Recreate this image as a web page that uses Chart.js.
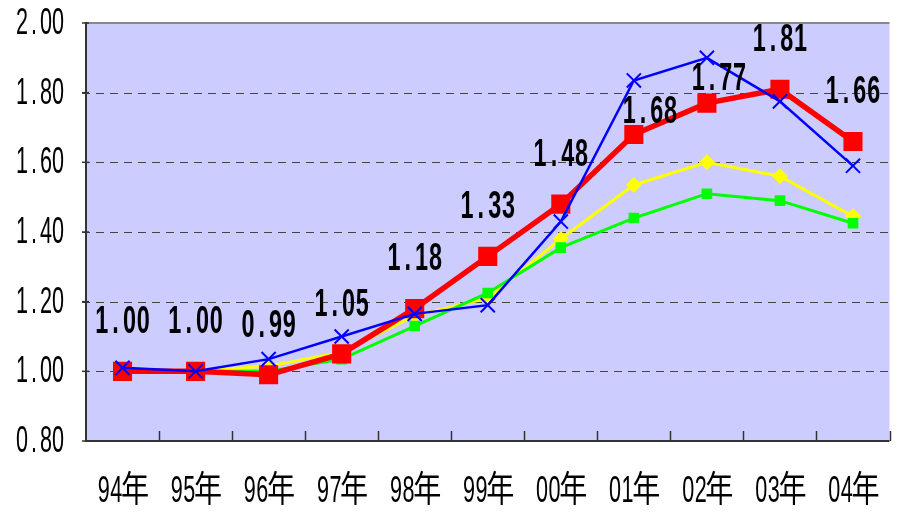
<!DOCTYPE html>
<html>
<head>
<meta charset="utf-8">
<script src="https://cdn.jsdelivr.net/npm/chart.js@4.4.1/dist/chart.umd.min.js"></script>
<style>
    html, body { margin: 0; padding: 0; background: #fff; overflow: hidden; }
    #wrap { width: 903px; height: 513px; }
</style>
</head>
<body>
<div id="wrap"><canvas id="index-chart"></canvas></div>
<script>
const years = ['94年', '95年', '96年', '97年', '98年', '99年', '00年', '01年', '02年', '03年', '04年'];
const redIndex = [1.00, 1.00, 0.99, 1.05, 1.18, 1.33, 1.48, 1.68, 1.77, 1.81, 1.66];
const blueIndex = [1.01, 1.00, 1.035, 1.10, 1.165, 1.19, 1.43, 1.835, 1.90, 1.775, 1.59];
const yellowIndex = [1.00, 1.00, 1.015, 1.055, 1.16, 1.21, 1.38, 1.535, 1.60, 1.56, 1.445];
const greenIndex = [1.00, 1.00, 1.00, 1.035, 1.13, 1.225, 1.355, 1.44, 1.51, 1.49, 1.425];
const yTicks = [0.80, 1.00, 1.20, 1.40, 1.60, 1.80, 2.00];

// labels for 01 and 02 sit closer to their points, shifted right
const labelNudge = { 7: [16, 27], 8: [12, 25] };

const SQUEEZE = 0.6;

// draws text in fixed cells like a half-width gothic font: ascii = 1 cell, kanji = 2
function cellText(ctx, text, x, y, cell, align, font) {
    const chars = [...text];
    const widths = chars.map(ch => ch.charCodeAt(0) > 255 ? cell * 2 : cell);
    const total = widths.reduce((a, b) => a + b, 0);
    let cx = align === 'right' ? x - total : (align === 'center' ? x - total / 2 : x);
    ctx.save();
    ctx.font = font;
    ctx.fillStyle = '#000';
    ctx.textAlign = 'center';
    ctx.textBaseline = 'middle';
    chars.forEach((ch, i) => {
        ctx.save();
        ctx.translate(cx + widths[i] / 2, y);
        ctx.scale(ch.charCodeAt(0) > 255 ? 0.78 : SQUEEZE, 1);
        ctx.fillText(ch, 0, 0);
        ctx.restore();
        cx += widths[i];
    });
    ctx.restore();
}

const plotFrame = {
    id: 'plotFrame',
    beforeDatasetsDraw(chart) {
        const { ctx, chartArea: a, scales: { x, y } } = chart;
        ctx.save();
        ctx.fillStyle = '#CCCCFF';
        ctx.fillRect(a.left, a.top, a.right - a.left, a.bottom - a.top);

        // dashed grid lines
        ctx.strokeStyle = '#444';
        ctx.lineWidth = 1;
        ctx.setLineDash([8, 6]);
        yTicks.slice(1, -1).forEach(v => {
            const py = Math.round(y.getPixelForValue(v)) + 0.5;
            ctx.beginPath();
            ctx.moveTo(a.left - 4, py);
            ctx.lineTo(a.right, py);
            ctx.stroke();
        });
        ctx.setLineDash([]);

        // top border
        ctx.strokeStyle = '#888';
        ctx.lineWidth = 2;
        ctx.beginPath();
        ctx.moveTo(a.left, a.top);
        ctx.lineTo(a.right, a.top);
        ctx.stroke();

        // axes
        ctx.strokeStyle = '#333';
        ctx.beginPath();
        ctx.moveTo(a.left, a.top - 1);
        ctx.lineTo(a.left, a.bottom);
        ctx.lineTo(a.right, a.bottom);
        ctx.stroke();

        // tick marks
        ctx.lineWidth = 1.5;
        yTicks.forEach(v => {
            const py = y.getPixelForValue(v);
            ctx.beginPath();
            ctx.moveTo(a.left - 4, py);
            ctx.lineTo(a.left + 3, py);
            ctx.stroke();
        });
        const half = (x.getPixelForValue(1) - x.getPixelForValue(0)) / 2;
        for (let i = 0; i < years.length; i++) {
            const px = Math.round(x.getPixelForValue(i) + half) + 0.5;
            ctx.beginPath();
            ctx.moveTo(px, a.bottom);
            ctx.lineTo(px, a.bottom - 10);
            ctx.stroke();
        }
        ctx.restore();
    },
    afterDatasetsDraw(chart) {
        const { ctx, chartArea: a, scales: { x, y } } = chart;
        const axisFont = '36px "Liberation Sans", "Noto Sans CJK JP", sans-serif';
        const labelFont = 'bold 39px "Liberation Sans", "Noto Sans CJK JP", sans-serif';

        yTicks.forEach(v => {
            cellText(ctx, v.toFixed(2), a.left - 22, y.getPixelForValue(v) + 1, 12, 'right', axisFont);
        });
        years.forEach((lbl, i) => {
            cellText(ctx, lbl, x.getPixelForValue(i), 492, 12.5, 'center', axisFont);
        });
        redIndex.forEach((v, i) => {
            const n = labelNudge[i] || [0, 0];
            cellText(ctx, v.toFixed(2), x.getPixelForValue(i) + n[0], y.getPixelForValue(v) - 49 + n[1], 13.8, 'center', labelFont);
        });
    }
};

new Chart(document.getElementById('index-chart'), {
    type: 'line',
    data: {
        labels: years,
        datasets: [
            {
                data: blueIndex,
                borderColor: '#0000FF',
                borderWidth: 2.5,
                pointStyle: 'crossRot',
                pointRadius: 10,
                pointBorderWidth: 2,
                pointBorderColor: '#0000FF',
                order: 1
            },
            {
                data: redIndex,
                borderColor: '#FF0000',
                borderWidth: 5.5,
                pointStyle: 'rect',
                pointRadius: 13.5,
                pointBackgroundColor: '#FF0000',
                pointBorderColor: '#FF0000',
                pointBorderWidth: 0,
                order: 2
            },
            {
                data: greenIndex,
                borderColor: '#00FF00',
                borderWidth: 3,
                pointStyle: 'rect',
                pointRadius: 7.5,
                pointBackgroundColor: '#00FF00',
                pointBorderColor: '#00FF00',
                pointBorderWidth: 0,
                order: 3
            },
            {
                data: yellowIndex,
                borderColor: '#FFFF00',
                borderWidth: 3,
                pointStyle: 'rectRot',
                pointRadius: 8,
                pointBackgroundColor: '#FFFF00',
                pointBorderColor: '#FFFF00',
                pointBorderWidth: 0,
                order: 4
            }
        ]
    },
    options: {
        responsive: true,
        maintainAspectRatio: false,
        animation: false,
        layout: { padding: { left: 86, top: 23, right: 1, bottom: 72 } },
        plugins: {
            legend: { display: false },
            tooltip: { enabled: false }
        },
        scales: {
            x: { display: false, offset: true },
            y: { display: false, min: 0.8, max: 2.0 }
        }
    },
    plugins: [plotFrame]
});
</script>
</body>
</html>
